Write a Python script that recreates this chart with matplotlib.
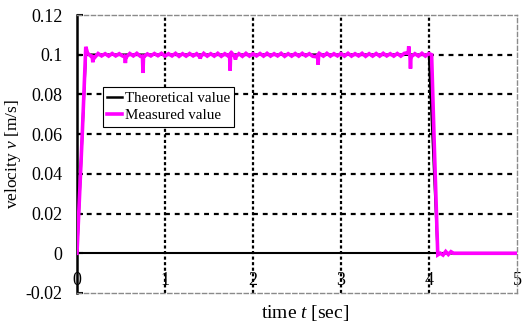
import numpy as np
import matplotlib
matplotlib.use("Agg")
import matplotlib.pyplot as plt

plt.rcParams['font.family'] = ['Liberation Serif', 'DejaVu Serif']
plt.rcParams['mathtext.fontset'] = 'custom'
plt.rcParams['mathtext.rm'] = 'Liberation Serif'
plt.rcParams['mathtext.it'] = 'Liberation Serif:italic'

# Theoretical velocity profile (trapezoid)
theory_t = [0.0, 0.1, 4.0, 4.1, 5.0]
theory_v = [0.0, 0.1, 0.1, 0.0, 0.0]

# Measured velocity: ramp-up, plateau samples, ramp-down and settling
rise_t = [0.0, 0.06, 0.10]
rise_v = [0.0, 0.060, 0.1040]

plateau_t = np.round(np.arange(0.12, 4.001, 0.04), 2)
plateau_v = [
    0.1008, 0.0992, 0.0985, 0.1006, 0.0994, 0.1005, 0.0993, 0.1006, 0.0994, 0.1005,
    0.0993, 0.0988, 0.1006, 0.0994, 0.1007, 0.0992, 0.0990, 0.1004, 0.0994, 0.1006,
    0.0995, 0.1007, 0.0993, 0.1005, 0.0994, 0.1007, 0.0992, 0.1005, 0.0993, 0.1006,
    0.0994, 0.1005, 0.0990, 0.1007, 0.0993, 0.1005, 0.0993, 0.1007, 0.0992, 0.1005,
    0.0993, 0.1008, 0.0990, 0.1005, 0.0992, 0.1007, 0.0993, 0.1005, 0.0994, 0.1006,
    0.0993, 0.1007, 0.0993, 0.1005, 0.0994, 0.1007, 0.0992, 0.1005, 0.0993, 0.1006,
    0.0993, 0.1007, 0.0994, 0.1005, 0.0992, 0.0990, 0.1005, 0.0993, 0.1007, 0.0993,
    0.1005, 0.0994, 0.1006, 0.0993, 0.1007, 0.0993, 0.1005, 0.0994, 0.1007, 0.0992,
    0.1005, 0.0993, 0.1006, 0.0993, 0.1007, 0.0994, 0.1005, 0.0993, 0.1006, 0.0993,
    0.1007, 0.1010, 0.0990, 0.1005, 0.0993, 0.1007, 0.0993, 0.1006,
]

# Short spikes on the plateau: time and peak value
spike_t = [0.18, 0.55, 0.75, 1.40, 1.74, 1.80, 2.74, 3.77, 3.79]
spike_v = [0.0962, 0.0958, 0.0908, 0.0980, 0.0920, 0.0975, 0.0950, 0.1042, 0.0930]

fall_t = [4.03, 4.06, 4.10, 4.13, 4.16, 4.19, 4.22, 4.25, 4.28, 5.0]
fall_v = [0.1, 0.055, -0.0008, 0.0, -0.0009, 0.0009, -0.0006, 0.0008, 0.0, 0.0]

# merge the spikes into the plateau as narrow excursions
pt = list(plateau_t)
pv = list(plateau_v)
for st, sv in zip(spike_t, spike_v):
    base = float(np.interp(st, plateau_t, plateau_v))
    pt += [st - 0.006, st, st + 0.006]
    pv += [base, sv, base]
order = np.argsort(pt, kind='stable')
pt = np.array(pt)[order]
pv = np.array(pv)[order]

meas_t = np.concatenate([rise_t, pt, fall_t])
meas_v = np.concatenate([rise_v, pv, fall_v])

x_ticks = [0, 1, 2, 3, 4, 5]
y_ticks = [-0.02, 0, 0.02, 0.04, 0.06, 0.08, 0.1, 0.12]
y_tick_labels = ['-0.02', '0', '0.02', '0.04', '0.06', '0.08', '0.1', '0.12']
x_grid = [1, 2, 3, 4]
y_grid = [0.02, 0.04, 0.06, 0.08, 0.1]

fig = plt.figure(figsize=(5.28, 3.24), dpi=100)
ax = fig.add_axes([0.1458, 0.0957, 0.8333, 0.858])
ax.set_xlim(0, 5)
ax.set_ylim(-0.02, 0.12)

# grid lines
for g in y_grid:
    ax.axhline(g, color='black', lw=1.6, dashes=(2.2, 2.2), zorder=1)
for g in x_grid:
    ax.axvline(g, color='black', lw=1.6, dashes=(1.4, 1.1), zorder=1)
ax.axhline(0, color='black', lw=1.5, zorder=2)

ax.plot(theory_t, theory_v, color='black', lw=1.8, label='Theoretical value', zorder=3)
ax.plot(meas_t, meas_v, color='#ff00ff', lw=2.6, label='Measured value', zorder=4,
        solid_joinstyle='miter')

# frame
for side in ['top', 'bottom', 'right']:
    ax.spines[side].set_color('#8a8a8a')
    ax.spines[side].set_linestyle((0, (3, 2)))
    ax.spines[side].set_linewidth(1.0)
ax.spines['left'].set_linewidth(1.8)
ax.spines['left'].set_color('black')

ax.set_yticks(y_ticks)
ax.set_yticklabels(y_tick_labels)
ax.set_xticks(x_ticks)
ax.set_xticklabels([])
ax.tick_params(axis='y', direction='in', length=4, width=1.5, labelsize=13, pad=10.5)
ax.tick_params(axis='x', length=0)

for xt in x_ticks:
    ax.text(xt, -0.0138, str(xt), ha='center', va='center', fontsize=13, zorder=0)

ax.set_xlabel('time $t$ [sec]', fontsize=14)
ax.xaxis.set_label_coords(0.518, -0.036)
ax.set_ylabel('velocity $v$ [m/s]', fontsize=12.5)
ax.yaxis.set_label_coords(-0.123, 0.5)

leg = ax.legend(loc='upper left', bbox_to_anchor=(0.059, 0.741), fontsize=10.8,
                frameon=True, fancybox=False, framealpha=1, edgecolor='black',
                handlelength=1.0, handletextpad=0.15, borderpad=0.3,
                labelspacing=0.25, borderaxespad=0)
leg.get_frame().set_linewidth(0.8)

fig.savefig('out.png', dpi=100)
